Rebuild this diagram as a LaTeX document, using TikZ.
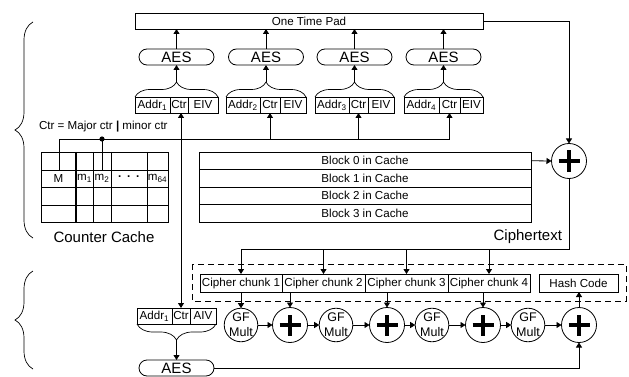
\documentclass[tikz,border=0pt]{standalone}
\usepackage{fontspec}
\setmainfont{Liberation Sans}
\usetikzlibrary{arrows.meta,decorations.pathreplacing,shapes.misc,calc}
\begin{document}
\begin{tikzpicture}[x=1pt,y=-1pt, line width=0.8pt,
  every node/.style={inner sep=0pt, outer sep=0pt},
  lbl/.style={font=\fontsize{11.6}{13}\selectfont},
  big/.style={font=\fontsize{15}{17}\selectfont},
  cell/.style={draw, lbl, minimum height=16, anchor=north west},
  row/.style={draw, lbl, minimum height=17.5, anchor=north west},
  aes/.style={draw, rounded rectangle, minimum width=75, minimum height=16, big},
  arr/.style={-{Triangle[length=5pt,width=6pt]}},
  brc/.style={decorate, decoration={brace, amplitude=#1}, line width=0.7pt},
  plussym/.style={path picture={
     \draw[line width=3.6pt] ($(path picture bounding box.center)+(-#1,0)$) -- ++(2*#1,0)
       ($(path picture bounding box.center)+(0,-#1)$) -- ++(0,2*#1);}},
  xorc/.style={draw, circle, minimum size=35, plussym=10.5pt},
  gfc/.style={draw, circle, minimum size=30, align=center, font=\fontsize{12.5}{15}\selectfont},
]
\useasboundingbox (0,0) rectangle (629,377);

% One time pad
\node[draw, lbl, minimum width=348, minimum height=16, anchor=north west] (otp) at (135,13) {One Time Pad};

% address boxes (encryption)
\node[cell, minimum width=35] (a1) at (135,97) {Addr\textsubscript{1}};
\node[cell, minimum width=18] (c1) at (a1.north east) {Ctr};
\node[cell, minimum width=30] (e1) at (c1.north east) {EIV};
\node[cell, minimum width=34] (a2) at (226,97) {Addr\textsubscript{2}};
\node[cell, minimum width=20] (c2) at (a2.north east) {Ctr};
\node[cell, minimum width=26] (e2) at (c2.north east) {EIV};
\node[cell, minimum width=34] (a3) at (315,97) {Addr\textsubscript{3}};
\node[cell, minimum width=19] (c3) at (a3.north east) {Ctr};
\node[cell, minimum width=26] (e3) at (c3.north east) {EIV};
\node[cell, minimum width=35] (a4) at (404,97) {Addr\textsubscript{4}};
\node[cell, minimum width=21] (c4) at (a4.north east) {Ctr};
\node[cell, minimum width=23] (e4) at (c4.north east) {EIV};

\foreach \i in {1,2,3,4}{
  \draw[brc=15pt] (a\i.north west) -- (e\i.north east);
  \coordinate (t\i) at ($(a\i.north west)!.5!(e\i.north east)+(0,-15)$);
  \node[aes] (A\i) at ($(t\i)+(0,-25)$) {AES};
  \draw[arr] (t\i) -- (A\i.south);
  \draw[arr] (A\i.north) -- (A\i.north |- otp.south);
}

% counter cache grid
\draw (41,152) rectangle (168,222);
\foreach \y in {170,187,205} \draw (41,\y) -- (168,\y);
\foreach \x in {93,111,147} \draw (\x,152) -- (\x,222);
\draw[line width=1.8pt] (76,152) -- (76,222);
\node[lbl] (tM) at (58.5,178.5) {M};
\node[lbl] (tm1) at (84.5,178.5) {m\textsubscript{1}};
\node[lbl] (tm2) at (102,178.5) {m\textsubscript{2}};
\node[lbl] (tdots) at (129,178.5) {\textbf{·\, ·\, ·}};
\node[lbl] (tm64) at (157.5,178.5) {m\textsubscript{64}};
\node[big] (cc) at (104,237) {Counter Cache};
\node[lbl, anchor=west] (ctrlbl) at (39,127) {Ctr = Major ctr \textbf{|} minor ctr};
\coordinate (mtop) at (59,170);
\coordinate (m2top) at (102,170);
\coordinate (bus) at (0,139);
\coordinate (dot) at (102,139);

% cache blocks
\node[row, minimum width=332] (b0) at (199,152) {Block 0 in Cache};
\node[row, minimum width=332] (b1) at (b0.south west) {Block 1 in Cache};
\node[row, minimum width=332] (b2) at (b1.south west) {Block 2 in Cache};
\node[row, minimum width=332] (b3) at (b2.south west) {Block 3 in Cache};

\node[xorc] (x0) at (569,161) {};
\draw[arr] (b0.east) -- (x0.west);
\draw[arr] (otp.east) -| (x0.north);
\node[big, anchor=east] (ct) at (562,237) {Ciphertext};

% authentication part
\draw[dash pattern=on 6pt off 4pt] (192,264) rectangle (626,301);
\node[cell, minimum width=82, minimum height=18] (k1) at (200,274) {Cipher chunk 1};
\node[cell, minimum width=83, minimum height=18] (k2) at (k1.north east) {Cipher chunk 2};
\node[cell, minimum width=83, minimum height=18] (k3) at (k2.north east) {Cipher chunk 3};
\node[cell, minimum width=82, minimum height=18] (k4) at (k3.north east) {Cipher chunk 4};
\node[cell, minimum width=79, minimum height=18] (hc) at (539,274) {Hash Code};

\coordinate (cl) at (0,249);
\draw (x0.south) |- (k1.north |- cl);
\foreach \i in {1,2,3,4} \draw[arr] (k\i.north |- cl) -- (k\i.north);

\node[gfc] (g1) at (241,325) {GF\\Mult};
\node[xorc] (p1) at (290,325) {};
\node[gfc] (g2) at (336,325) {GF\\Mult};
\node[xorc] (p2) at (387,325) {};
\node[gfc] (g3) at (432,325) {GF\\Mult};
\node[xorc] (p3) at (483,325) {};
\node[gfc] (g4) at (528,325) {GF\\Mult};
\node[xorc] (p4) at (579,325) {};

\draw[arr] (k1.south -| g1.north) -- (g1.north);
\draw[arr] (k2.south -| p1.north) -- (p1.north);
\draw[arr] (k3.south -| p2.north) -- (p2.north);
\draw[arr] (k4.south -| p3.north) -- (p3.north);
\draw[arr] (p4.north) -- (p4.north |- hc.south);
\draw[arr] (g1) -- (p1);
\draw[arr] (p1) -- (g2);
\draw[arr] (g2) -- (p2);
\draw[arr] (p2) -- (g3);
\draw[arr] (g3) -- (p3);
\draw[arr] (p3) -- (g4);
\draw[arr] (g4) -- (p4);

\node[cell, minimum width=35] (ai) at (137,308) {Addr\textsubscript{1}};
\node[cell, minimum width=18] (ci) at (ai.north east) {Ctr};
\node[cell, minimum width=26] (vi) at (ci.north east) {AIV};
\draw[brc=16pt] (vi.south east) -- (ai.south west);
\coordinate (tb) at ($(ai.south west)!.5!(vi.south east)+(0,16)$);
\node[aes] (Ab) at ($(tb)+(0,28)$) {AES};
\draw[arr] (tb) -- (Ab.north);
\draw[arr] (Ab.east) -| (p4.south);

% counter bus
\draw[arr] (mtop) -- (mtop |- bus) -- (c4.south |- bus) -- (c4.south);
\draw[arr] (c2.south |- bus) -- (c2.south);
\draw[arr] (c3.south |- bus) -- (c3.south);
\draw[arr] (ci.north |- bus) -- (ci.north |- c1.south);
\draw[arr] (ci.north |- bus) -- (ci.north);
\draw (dot) -- (m2top);
\fill (dot) circle (2.6);

% side braces
\draw[brc=18pt] (33,238) -- (33,22);
\draw[brc=18pt] (33,369) -- (33,271);
\end{tikzpicture}
\end{document}
